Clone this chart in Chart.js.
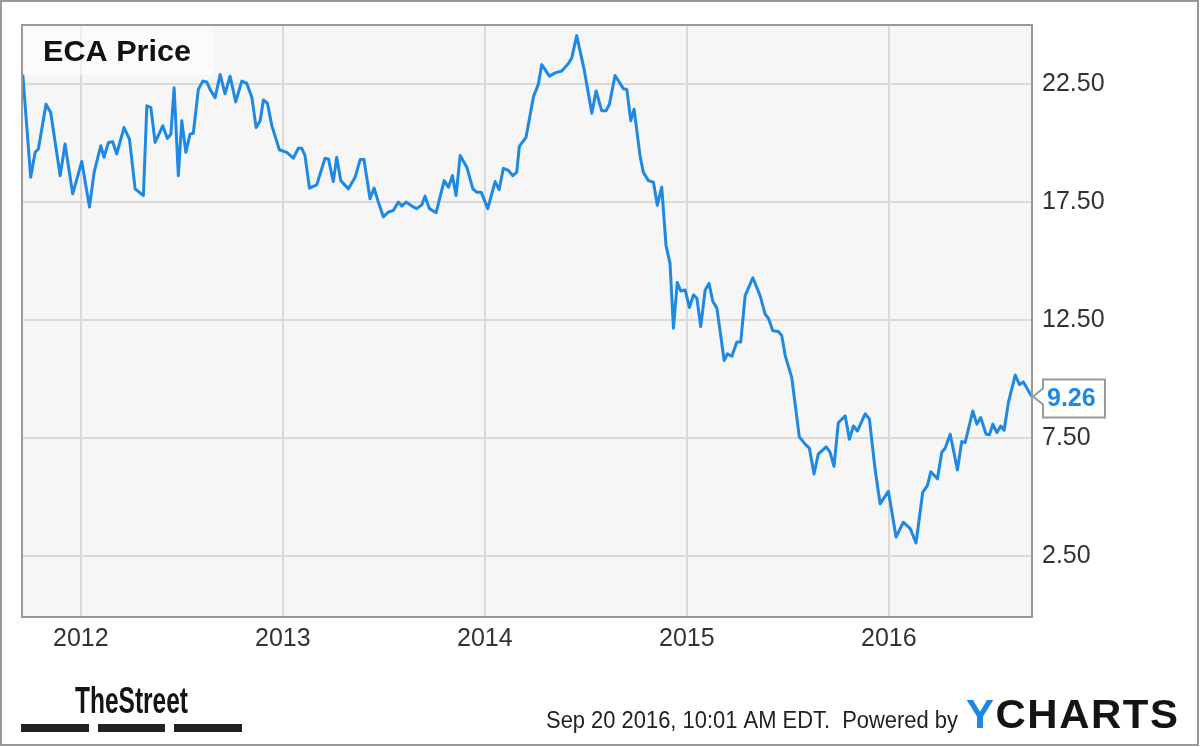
<!DOCTYPE html>
<html>
<head>
<meta charset="utf-8">
<script src="https://cdn.jsdelivr.net/npm/chart.js@4.4.1/dist/chart.umd.min.js"></script>
<style>
  html, body { margin: 0; padding: 0; background: #ffffff; }
  #wrap { width: 1200px; height: 747px; }
</style>
</head>
<body>
<div id="wrap"><canvas id="c" width="1200" height="747"></canvas></div>
<script>
// ---- Data (decimal year, price) ----
const dates = [
 2011.713,2011.752,2011.774,2011.790,2011.828,2011.851,2011.898,2011.922,2011.960,2012.005,
 2012.043,2012.066,2012.099,2012.115,2012.137,2012.158,2012.178,2012.214,2012.241,2012.269,
 2012.310,2012.327,2012.347,2012.368,2012.406,2012.429,2012.446,2012.462,2012.483,2012.500,
 2012.520,2012.541,2012.557,2012.582,2012.604,2012.624,2012.640,2012.665,2012.690,2012.714,
 2012.739,2012.767,2012.797,2012.822,2012.847,2012.868,2012.888,2012.904,2012.924,2012.946,
 2012.983,2013.020,2013.052,2013.077,2013.094,2013.110,2013.132,2013.168,2013.209,2013.226,
 2013.250,2013.267,2013.287,2013.325,2013.358,2013.383,2013.402,2013.432,2013.452,2013.473,
 2013.498,2013.523,2013.548,2013.572,2013.589,2013.610,2013.639,2013.663,2013.688,2013.704,
 2013.726,2013.759,2013.799,2013.820,2013.840,2013.858,2013.878,2013.911,2013.941,2013.960,
 2013.982,2014.015,2014.051,2014.071,2014.092,2014.117,2014.139,2014.158,2014.171,2014.204,
 2014.241,2014.265,2014.282,2014.320,2014.348,2014.381,2014.414,2014.431,2014.455,2014.492,
 2014.530,2014.551,2014.579,2014.600,2014.617,2014.645,2014.686,2014.703,2014.723,2014.739,
 2014.769,2014.785,2014.810,2014.835,2014.854,2014.876,2014.897,2014.917,2014.934,2014.953,
 2014.970,2014.992,2015.013,2015.033,2015.050,2015.069,2015.091,2015.110,2015.129,2015.149,
 2015.185,2015.201,2015.223,2015.248,2015.267,2015.289,2015.327,2015.363,2015.388,2015.404,
 2015.426,2015.453,2015.470,2015.487,2015.520,2015.557,2015.586,2015.607,2015.630,2015.651,
 2015.690,2015.709,2015.729,2015.750,2015.784,2015.805,2015.825,2015.845,2015.883,2015.904,
 2015.933,2015.957,2015.998,2016.036,2016.072,2016.106,2016.135,2016.168,2016.191,2016.208,
 2016.241,2016.262,2016.279,2016.304,2016.340,2016.361,2016.378,2016.416,2016.436,2016.455,
 2016.482,2016.498,2016.515,2016.535,2016.554,2016.571,2016.592,2016.626,2016.647,2016.666,
 2016.708
];
const prices = [
 22.92,18.56,19.62,19.76,21.66,21.31,18.63,19.97,17.86,19.23,
 17.30,18.77,19.90,19.41,20.04,20.07,19.55,20.67,20.18,18.07,
 17.79,21.59,21.52,20.04,20.74,20.21,20.39,22.36,18.63,20.96,
 19.62,20.39,20.43,22.29,22.64,22.60,22.29,21.94,22.92,22.10,
 22.85,21.76,22.64,22.54,21.94,20.67,20.96,21.84,21.70,20.74,
 19.73,19.62,19.37,19.79,19.79,19.48,18.10,18.24,19.37,19.34,
 18.38,19.41,18.42,18.07,18.56,19.31,19.31,17.65,18.10,17.51,
 16.88,17.09,17.16,17.51,17.34,17.51,17.34,17.23,17.39,17.76,
 17.23,17.06,18.42,18.14,18.63,17.79,19.48,18.99,18.07,17.93,
 17.93,17.23,18.38,18.04,18.94,18.85,18.63,18.77,19.87,20.25,
 21.98,22.50,23.34,22.85,22.99,23.07,23.39,23.63,24.57,23.13,
 21.28,22.22,21.38,21.38,21.66,22.88,22.32,22.29,20.96,21.45,
 19.45,18.77,18.42,18.35,17.37,18.14,15.68,14.91,12.16,14.10,
 13.74,13.78,13.04,13.57,13.43,12.23,13.78,14.06,13.29,13.01,
 10.79,11.07,10.97,11.57,11.57,13.54,14.30,13.54,12.75,12.58,
 12.05,12.02,11.85,11.01,10.05,7.55,7.24,7.07,5.98,6.82,
 7.13,6.90,6.30,8.15,8.44,7.45,8.01,7.80,8.53,8.30,
 6.12,4.71,5.24,3.30,3.93,3.66,3.05,5.20,5.48,6.07,
 5.77,6.89,7.07,7.66,6.15,7.35,7.31,8.65,8.09,8.37,
 7.66,7.64,8.09,7.73,8.01,7.83,9.00,10.17,9.77,9.88,
 9.26
];
const yearTicks = [2012, 2013, 2014, 2015, 2016];
const priceTicks = [2.5, 7.5, 12.5, 17.5, 22.5];
const titleText = "ECA Price";
const lastLabel = "9.26";
const footerText = "Sep 20 2016, 10:01 AM EDT.  Powered by";

const FONT = "'Liberation Sans', Arial, sans-serif";
const LINE_BLUE = '#1e88e5';

const points = dates.map((d, i) => ({ x: d, y: prices[i] }));

const decor = {
  id: 'decor',
  beforeDraw(chart) {
    const { ctx, chartArea: a } = chart;
    ctx.save();
    ctx.fillStyle = '#ffffff';
    ctx.fillRect(0, 0, chart.width, chart.height);
    ctx.fillStyle = '#f6f6f6';
    ctx.fillRect(a.left, a.top, a.right - a.left, a.bottom - a.top);
    ctx.restore();
  },
  beforeDatasetsDraw(chart) {
    const { ctx, chartArea: a } = chart;
    ctx.save();
    ctx.fillStyle = 'rgba(255,255,255,0.55)';
    ctx.fillRect(a.left, a.top, 191, 50);
    ctx.fillStyle = '#111111';
    ctx.font = "bold 30px " + FONT;
    ctx.textBaseline = 'alphabetic';
    ctx.textAlign = 'left';
    const tw = ctx.measureText(titleText).width;
    ctx.save();
    ctx.translate(43, 61);
    ctx.scale(148 / tw, 1);
    ctx.fillText(titleText, 0, 0);
    ctx.restore();
    ctx.restore();
  },
  afterDraw(chart) {
    const { ctx, chartArea: a } = chart;
    ctx.save();
    ctx.strokeStyle = '#9a9a9a';
    ctx.lineWidth = 2;
    ctx.strokeRect(a.left, a.top, a.right - a.left, a.bottom - a.top);
    ctx.strokeStyle = '#999999';
    ctx.lineWidth = 2;
    ctx.strokeRect(1, 1, 1197, 744);

    // last value callout
    const meta = chart.getDatasetMeta(0);
    const lp = meta.data[meta.data.length - 1];
    const py = lp.y;
    const bx = a.right + 11, bw = 62, bh = 38, by = py - 17;
    ctx.beginPath();
    ctx.moveTo(bx, by);
    ctx.lineTo(bx + bw, by);
    ctx.lineTo(bx + bw, by + bh);
    ctx.lineTo(bx, by + bh);
    ctx.lineTo(bx, py + 8);
    ctx.lineTo(a.right + 1, py);
    ctx.lineTo(bx, py - 8);
    ctx.closePath();
    ctx.fillStyle = '#ffffff';
    ctx.fill();
    ctx.strokeStyle = '#9a9a9a';
    ctx.lineWidth = 2;
    ctx.stroke();
    ctx.fillStyle = LINE_BLUE;
    ctx.font = "bold 25px " + FONT;
    ctx.textBaseline = 'middle';
    ctx.textAlign = 'left';
    ctx.fillText(lastLabel, bx + 4, py + 3);

    // TheStreet logo
    ctx.textBaseline = 'alphabetic';
    ctx.fillStyle = '#141414';
    ctx.font = "bold 36px " + FONT;
    let w = ctx.measureText('TheStreet').width;
    ctx.save();
    ctx.translate(75, 713);
    ctx.scale(113 / w, 1);
    ctx.fillText('TheStreet', 0, 0);
    ctx.restore();
    ctx.fillStyle = '#222222';
    ctx.fillRect(21, 724, 68, 8);
    ctx.fillRect(98, 724, 67, 8);
    ctx.fillRect(174, 724, 68, 8);

    // footer text
    ctx.fillStyle = '#222222';
    ctx.font = "23px " + FONT;
    w = ctx.measureText(footerText).width;
    ctx.save();
    ctx.translate(546, 728);
    ctx.scale(412 / w, 1);
    ctx.fillText(footerText, 0, 0);
    ctx.restore();

    // YCHARTS (stretched bold)
    ctx.font = "bold 40px " + FONT;
    const letters = 'YCHARTS'.split('');
    const totalW = letters.reduce((s, c) => s + ctx.measureText(c).width, 0);
    const sx = 212 / (totalW + 6 * 1.5);
    ctx.save();
    ctx.translate(966, 728);
    ctx.scale(sx, 1);
    let x = 0;
    letters.forEach((c, i) => {
      ctx.fillStyle = i === 0 ? LINE_BLUE : '#141414';
      ctx.fillText(c, x, 0);
      x += ctx.measureText(c).width + 1.5;
    });
    ctx.restore();
    ctx.restore();
  }
};

new Chart(document.getElementById('c'), {
  type: 'line',
  data: {
    datasets: [{
      label: 'ECA Price',
      data: points,
      borderColor: LINE_BLUE,
      borderWidth: 3,
      pointRadius: 0,
      tension: 0,
      borderJoinStyle: 'round',
      fill: false
    }]
  },
  options: {
    responsive: false,
    animation: false,
    devicePixelRatio: 1,
    layout: { padding: { left: 22, top: 22, right: 0, bottom: 0 } },
    plugins: { legend: { display: false }, tooltip: { enabled: false }, title: { display: false } },
    scales: {
      x: {
        type: 'linear',
        min: 2011.709,
        max: 2016.709,
        afterBuildTicks: s => { s.ticks = yearTicks.map(v => ({ value: v })); },
        afterFit: s => { s.height = 130; },
        grid: { color: '#dadada', lineWidth: 2, drawTicks: false },
        border: { display: false },
        ticks: {
          autoSkip: false, maxRotation: 0, padding: 7,
          color: '#333333', font: { family: FONT, size: 25 },
          callback: v => String(v)
        }
      },
      y: {
        position: 'right',
        min: -0.09,
        max: 25.02,
        afterBuildTicks: s => { s.ticks = priceTicks.map(v => ({ value: v })); },
        afterFit: s => { s.width = 168; },
        grid: { color: '#dadada', lineWidth: 2, drawTicks: false },
        border: { display: false },
        ticks: {
          padding: 10,
          color: '#333333', font: { family: FONT, size: 25 },
          callback: v => Number(v).toFixed(2)
        }
      }
    }
  },
  plugins: [decor]
});
</script>
</body>
</html>
